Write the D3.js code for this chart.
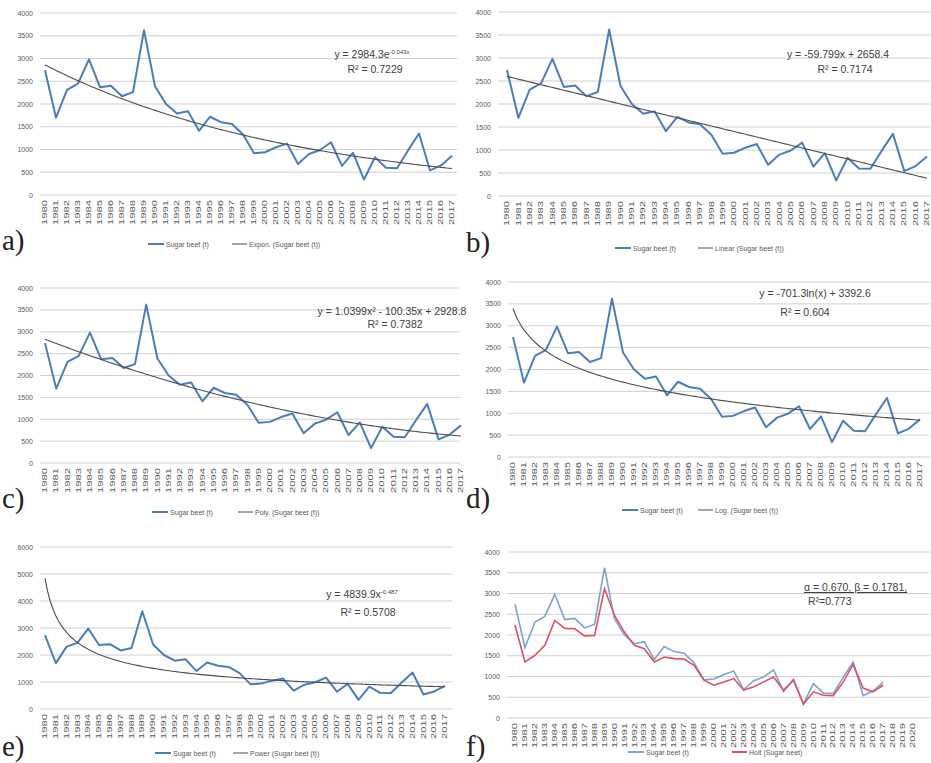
<!DOCTYPE html>
<html lang="en">
<head>
  <meta charset="UTF-8">
  <title>Sugar beet trends</title>
  <style>
    body { margin: 0; background: #fff; font-family: "Liberation Sans", Arial, sans-serif; }
    svg { display: block; }
    .tick { font-size: 7px; fill: #595959; }
    .year { font-size: 6.5px; fill: #595959; }
    .eq { font-size: 10.5px; fill: #404040; }
    .leg { font-size: 7px; fill: #595959; }
    .letter { font-family: "Liberation Serif", "DejaVu Serif", serif; font-size: 29px; fill: #222; }
  </style>
</head>
<body>
  <svg width="931" height="763"></svg>

  <script src="https://d3js.org/d3.v7.min.js"></script>
  <script>
    // data
    const years = d3.range(1980, 2018);
    const fYears = d3.range(1980, 2021);
    const sugarBeet = [2740, 1700, 2310, 2450, 2980, 2370, 2400, 2170, 2260, 3620,
                       2390, 2000, 1790, 1840, 1410, 1720, 1600, 1560, 1330, 920,
                       940, 1050, 1130, 680, 900, 990, 1160, 640, 930, 340,
                       830, 600, 590, 980, 1350, 540, 650, 860];
    const holt = [2240, 1350, 1510, 1750, 2350, 2160, 2150, 1980, 1990, 3120,
                  2470, 2070, 1750, 1670, 1350, 1470, 1430, 1420, 1270, 910,
                  790, 870, 950, 670, 750, 870, 990, 670, 910, 330,
                  630, 550, 540, 870, 1290, 720, 630, 790];

    // trendline coefficients as printed on the chart
    const expCoef = [2984.3, -0.043];
    const linCoef = [-59.799, 2658.4];
    const polyCoef = [1.0399, -100.35, 2928.8];
    const logCoef = [-701.3, 3392.6];
    const powCoef = [4839.9, -0.487];

    const trends = {
      expon: t => expCoef[0] * Math.exp(expCoef[1] * t),
      linear: t => linCoef[0] * t + linCoef[1],
      poly: t => polyCoef[0] * t * t + polyCoef[1] * t + polyCoef[2],
      log: t => logCoef[0] * Math.log(t) + logCoef[1],
      power: t => powCoef[0] * Math.pow(t, powCoef[1])
    };

    const svg = d3.select("svg");
    const blue = "#4a7ebb";

    const panels = [
      { letter: "a)", lx: 2, ly: 250, gx0: 40, gx1: 457, px0: 45, px1: 452, yTop: 13, yBot: 195, yMax: 4000, yStep: 500,
        trend: "expon", eq: ["y = 2984.3e", "-0.043x"], eqx: 372, eqy: 58, r2: "R² = 0.7229", r2x: 375, r2y: 73,
        leg: { y: 244, l1: 148, l2: 232, name: "Expon. (Sugar beet (t))" } },
      { letter: "b)", lx: 466, ly: 252, gx0: 498, gx1: 930, px0: 507, px1: 927, yTop: 12, yBot: 196, yMax: 4000, yStep: 500,
        trend: "linear", eq: ["y = -59.799x + 2658.4"], eqx: 838, eqy: 58, r2: "R² = 0.7174", r2x: 845, r2y: 73,
        leg: { y: 248, l1: 615, l2: 698, name: "Linear (Sugar beet (t))" } },
      { letter: "c)", lx: 2, ly: 508, gx0: 40, gx1: 460, px0: 45, px1: 461, yTop: 288, yBot: 463, yMax: 4000, yStep: 500,
        trend: "poly", eq: ["y = 1.0399x² - 100.35x + 2928.8"], eqx: 392, eqy: 315, r2: "R² = 0.7382", r2x: 395, r2y: 328,
        leg: { y: 512, l1: 152, l2: 238, name: "Poly. (Sugar beet (t))" } },
      { letter: "d)", lx: 466, ly: 508, gx0: 508, gx1: 930, px0: 513, px1: 920, yTop: 282, yBot: 457, yMax: 4000, yStep: 500,
        trend: "log", eq: ["y = -701.3ln(x) + 3392.6"], eqx: 815, eqy: 297, r2: "R² = 0.604", r2x: 805, r2y: 316,
        leg: { y: 510, l1: 622, l2: 698, name: "Log. (Sugar beet (t))" } },
      { letter: "e)", lx: 2, ly: 756, gx0: 40, gx1: 452, px0: 45, px1: 445, yTop: 547, yBot: 709, yMax: 6000, yStep: 1000,
        trend: "power", eq: ["y = 4839.9x", "-0.487"], eqx: 362, eqy: 598, r2: "R² = 0.5708", r2x: 368, r2y: 616,
        leg: { y: 753, l1: 155, l2: 233, name: "Power (Sugar beet (t))" } }
    ];

    function drawFrame(p, cats) {
      const g = svg.append("g");
      const y = d3.scaleLinear().domain([0, p.yMax]).range([p.yBot, p.yTop]);
      const x = d3.scalePoint().domain(cats).range([p.px0, p.px0 + (cats.length - 1) * (p.px1 - p.px0) / (years.length - 1)]);
      const ticks = d3.range(0, p.yMax + 1, p.yStep);

      g.selectAll("line.grid").data(ticks).join("line")
        .attr("x1", p.gx0).attr("x2", p.gx1)
        .attr("y1", d => y(d)).attr("y2", d => y(d))
        .attr("stroke", "#d0d0d0").attr("stroke-width", 1);

      g.selectAll("text.tick").data(ticks).join("text")
        .attr("class", "tick")
        .attr("x", p.gx0 - 7).attr("y", d => y(d) + 2.5)
        .attr("text-anchor", "end")
        .text(d => d);

      g.selectAll("text.year").data(cats).join("text")
        .attr("class", "year")
        .attr("transform", d => `translate(${x(d) + 2.2},${p.yBot + 5}) rotate(-90)`)
        .attr("text-anchor", "end")
        .attr("textLength", 25).attr("lengthAdjust", "spacingAndGlyphs")
        .text(d => d);

      svg.append("text").attr("class", "letter").attr("x", p.lx).attr("y", p.ly).text(p.letter);
      return { g, x, y };
    }

    function legend(p, color1, color2, name1, name2) {
      const L = p.leg;
      svg.append("line").attr("x1", L.l1).attr("x2", L.l1 + 16).attr("y1", L.y).attr("y2", L.y)
        .attr("stroke", color1).attr("stroke-width", 2);
      svg.append("text").attr("class", "leg").attr("x", L.l1 + 18).attr("y", L.y + 2.5).text(name1);
      svg.append("line").attr("x1", L.l2).attr("x2", L.l2 + 15).attr("y1", L.y).attr("y2", L.y)
        .attr("stroke", color2).attr("stroke-width", 1);
      svg.append("text").attr("class", "leg").attr("x", L.l2 + 17).attr("y", L.y + 2.5).text(name2);
    }

    panels.forEach(p => {
      const { g, x, y } = drawFrame(p, years);
      const tx = d3.scaleLinear().domain([1, years.length]).range([p.px0, p.px1]);
      const f = trends[p.trend];
      const ts = d3.range(1, years.length + 0.001, 0.25);

      g.append("path")
        .datum(sugarBeet)
        .attr("fill", "none").attr("stroke", blue).attr("stroke-width", 2)
        .attr("stroke-linejoin", "round")
        .attr("d", d3.line().x((d, i) => x(years[i])).y(d => y(d)));

      g.append("path")
        .datum(ts)
        .attr("fill", "none").attr("stroke", "#4d4d4d").attr("stroke-width", 1.1)
        .attr("d", d3.line().x(t => tx(t)).y(t => y(f(t))));

      const eq = g.append("text").attr("class", "eq").attr("x", p.eqx).attr("y", p.eqy).attr("text-anchor", "middle");
      eq.append("tspan").text(p.eq[0]);
      if (p.eq[1]) eq.append("tspan").attr("dy", -4).attr("font-size", "6px").text(p.eq[1]);
      g.append("text").attr("class", "eq").attr("x", p.r2x).attr("y", p.r2y).attr("text-anchor", "middle").text(p.r2);

      legend(p, blue, "#4d4d4d", "Sugar beet (t)", p.leg.name);
    });

    // panel f: Holt smoothing
    const pf = { letter: "f)", lx: 466, ly: 756, gx0: 507, gx1: 930, px0: 515, px1: 883, yTop: 552, yBot: 718, yMax: 4000, yStep: 500,
                 leg: { y: 752, l1: 628, l2: 732 } };
    const F = drawFrame(pf, fYears);

    F.g.append("path")
      .datum(sugarBeet)
      .attr("fill", "none").attr("stroke", "#7ba3d6").attr("stroke-width", 1.6)
      .attr("d", d3.line().x((d, i) => F.x(fYears[i])).y(d => F.y(d)));
    F.g.append("path")
      .datum(holt)
      .attr("fill", "none").attr("stroke", "#e0505f").attr("stroke-width", 1.6)
      .attr("d", d3.line().x((d, i) => F.x(fYears[i])).y(d => F.y(d)));

    F.g.append("text").attr("class", "eq").attr("x", 804).attr("y", 591).attr("font-size", "11.5px")
      .attr("text-decoration", "underline").text("α = 0.670, β = 0.1781,");
    F.g.append("text").attr("class", "eq").attr("x", 808).attr("y", 605).text("R²=0.773");

    legend(pf, "#7ba3d6", "#e0505f", "Sugar beet (t)", "Holt (Sugar beet)");
    svg.selectAll("line").filter(function () { return d3.select(this).attr("stroke") === "#e0505f"; }).attr("stroke-width", 2);
  </script>
</body>
</html>
